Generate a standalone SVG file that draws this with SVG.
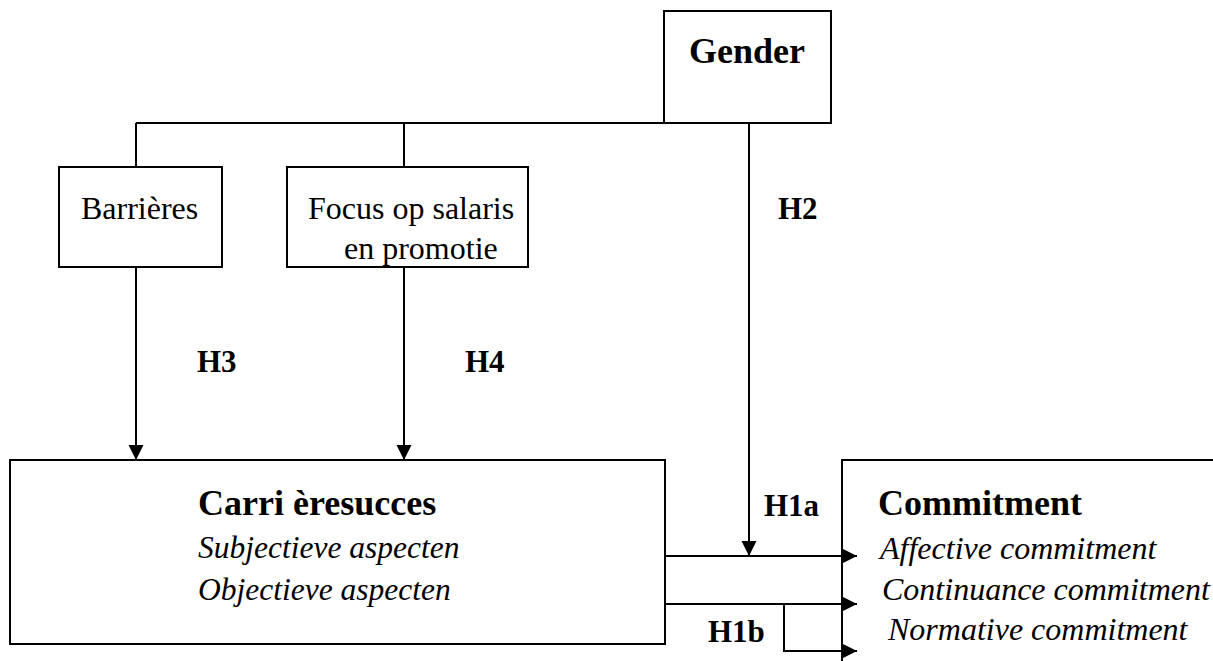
<svg xmlns="http://www.w3.org/2000/svg" width="1213" height="661" viewBox="0 0 1213 661">
<defs>
<marker id="arr" markerUnits="userSpaceOnUse" markerWidth="16" markerHeight="16" refX="15" refY="7.5" orient="auto">
<path d="M0,0 L15,7.5 L0,15 z" fill="#000"/>
</marker>
<style>
.box{fill:#fff;stroke:#000;stroke-width:2}
.ln{fill:none;stroke:#000;stroke-width:2}
.t{font-family:"Liberation Serif","Times New Roman",serif;fill:#000}
.b{font-weight:bold}
.i{font-style:italic}
</style>
</defs>
<rect width="1213" height="661" fill="#fff"/>
<g id="gender">
<rect class="box" x="664" y="11" width="167" height="112"/>
<text class="t b" x="689" y="63" font-size="36">Gender</text>
</g>
<g id="barrieres">
<rect class="box" x="59" y="167" width="163" height="100"/>
<text class="t" x="81" y="219" font-size="32">Barrières</text>
</g>
<g id="focus">
<rect class="box" x="287" y="167" width="241" height="100"/>
<text class="t" x="308" y="219" font-size="32">Focus op salaris</text>
<text class="t" x="344" y="259" font-size="32">en promotie</text>
</g>
<g id="carrieresucces">
<rect class="box" x="10" y="460" width="655" height="184"/>
<text class="t b" x="198" y="515" font-size="36">Carri èresucces</text>
<text class="t i" x="198" y="558" font-size="31.5">Subjectieve aspecten</text>
<text class="t i" x="198" y="600" font-size="31.5">Objectieve aspecten</text>
</g>
<g id="commitment">
<rect class="box" x="842" y="460" width="400" height="260"/>
<text class="t b" x="878" y="515" font-size="36">Commitment</text>
<text class="t i" x="880" y="559" font-size="32">Affective commitment</text>
<text class="t i" x="882" y="600" font-size="32">Continuance commitment</text>
<text class="t i" x="888" y="640" font-size="32">Normative commitment</text>
</g>
<g id="connectors">
<path class="ln" d="M136,123 H831"/>
<path class="ln" d="M136,123 V167"/>
<path class="ln" d="M404,123 V167"/>
<path class="ln" d="M136,267 V460" marker-end="url(#arr)"/>
<path class="ln" d="M404,267 V460" marker-end="url(#arr)"/>
<path class="ln" d="M749,123 V556" marker-end="url(#arr)"/>
<path class="ln" d="M665,556 H857" marker-end="url(#arr)"/>
<path class="ln" d="M665,604 H857" marker-end="url(#arr)"/>
<path class="ln" d="M784,604 V651 H857" marker-end="url(#arr)"/>
<text class="t b" x="778" y="219" font-size="31">H2</text>
<text class="t b" x="197" y="372" font-size="31">H3</text>
<text class="t b" x="465" y="372" font-size="31">H4</text>
<text class="t b" x="764" y="516" font-size="31">H1a</text>
<text class="t b" x="708" y="642" font-size="31">H1b</text>
</g>
</svg>
